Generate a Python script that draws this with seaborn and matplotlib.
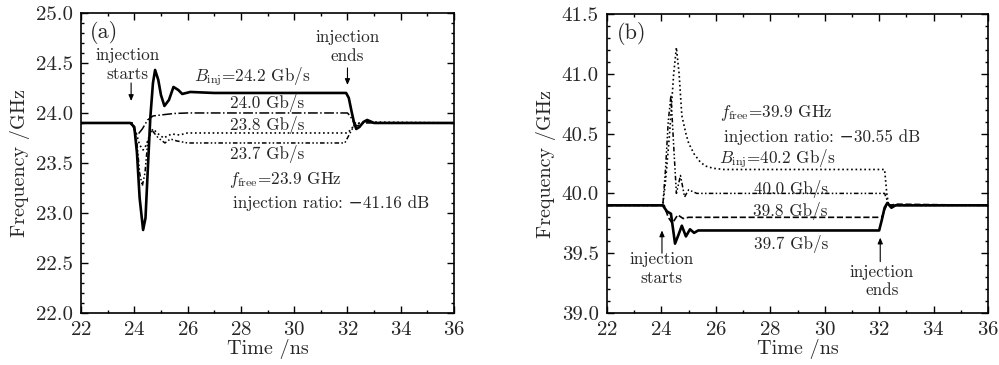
import numpy as np
import pandas as pd
import matplotlib
matplotlib.use('Agg')
import matplotlib.pyplot as plt
import seaborn as sns

# ---- panel (a) data, f_free = 23.9 GHz ----
t_a242 = [22, 23.85, 24.0, 24.1, 24.2, 24.33, 24.42, 24.5, 24.6, 24.7, 24.78, 24.9, 25.0, 25.13,
          25.3, 25.47, 25.65, 25.8, 26.1, 27, 31.95, 32.05, 32.15, 32.25, 32.33, 32.45, 32.6, 32.74, 33, 36]
f_a242 = [23.9, 23.9, 23.86, 23.6, 23.15, 22.83, 22.95, 23.4, 23.95, 24.3, 24.43, 24.33, 24.18, 24.07,
          24.13, 24.26, 24.23, 24.19, 24.21, 24.2, 24.2, 24.15, 24.02, 23.9, 23.84, 23.86, 23.91, 23.93, 23.9, 23.9]

t_a240 = [22, 23.9, 24.05, 24.15, 24.3, 24.5, 24.7, 25.0, 25.5, 26, 32.0, 32.1, 32.25, 32.35, 32.5, 32.7, 32.9, 36]
f_a240 = [23.9, 23.9, 23.8, 23.79, 23.84, 23.93, 23.97, 23.98, 23.995, 24.0, 24.0, 23.97, 23.9, 23.87, 23.88, 23.92, 23.9, 23.9]

t_a238 = [22, 23.9, 24.05, 24.2, 24.33, 24.45, 24.6, 24.7, 24.9, 25.1, 25.4, 25.7, 26, 32.0, 32.15, 32.3, 32.5, 32.7, 36]
f_a238 = [23.9, 23.9, 23.82, 23.68, 23.63, 23.68, 23.8, 23.84, 23.79, 23.75, 23.79, 23.78, 23.8, 23.8, 23.84, 23.9, 23.89, 23.91, 23.9]

t_a237 = [22, 23.95, 24.1, 24.2, 24.3, 24.4, 24.5, 24.65, 24.9, 25.15, 25.35, 25.6, 26, 31.9, 32.1, 32.3, 32.5, 36]
f_a237 = [23.9, 23.9, 23.7, 23.4, 23.27, 23.4, 23.7, 23.83, 23.75, 23.7, 23.74, 23.72, 23.7, 23.7, 23.8, 23.9, 23.9, 23.9]

# ---- panel (b) data, f_free = 39.9 GHz ----
t_b402 = [22, 24.05, 24.15, 24.3, 24.45, 24.55, 24.65, 24.75, 24.9, 25.0, 25.2, 25.4, 25.6, 25.9, 26.3, 32.2, 32.28, 32.35, 36]
f_b402 = [39.9, 39.9, 40.1, 40.5, 41.0, 41.22, 41.0, 40.65, 40.5, 40.42, 40.33, 40.27, 40.23, 40.21, 40.2, 40.2, 40.0, 39.9, 39.9]

t_b400 = [22, 24.05, 24.15, 24.25, 24.35, 24.45, 24.55, 24.7, 24.85, 25.0, 25.3, 32.2, 32.28, 32.35, 36]
f_b400 = [39.9, 39.9, 40.2, 40.6, 40.82, 40.4, 40.0, 40.15, 39.97, 40.03, 40.0, 40.0, 39.95, 39.9, 39.9]

t_b398 = [22, 24.1, 24.25, 24.4, 24.6, 24.8, 25.0, 32.1, 32.2, 32.3, 32.4, 32.6, 36]
f_b398 = [39.9, 39.9, 39.8, 39.75, 39.82, 39.79, 39.8, 39.8, 39.86, 39.92, 39.9, 39.91, 39.9]

t_b397 = [22, 24.05, 24.2, 24.35, 24.5, 24.62, 24.75, 24.9, 25.05, 25.2, 25.35, 26, 32.0, 32.1, 32.2, 32.3, 32.45, 32.6, 36]
f_b397 = [39.9, 39.9, 39.85, 39.83, 39.58, 39.65, 39.73, 39.64, 39.7, 39.67, 39.69, 39.69, 39.69, 39.78, 39.88, 39.92, 39.88, 39.9, 39.9]

sns.set_style('white')
plt.rcParams['font.family'] = ['cmr10', 'DejaVu Serif']
plt.rcParams['mathtext.fontset'] = 'cm'
plt.rcParams['axes.formatter.use_mathtext'] = True

fig = plt.figure(figsize=(9.99, 3.65), dpi=100)
ax_a = fig.add_axes([0.0811, 0.1425, 0.3734, 0.822])
ax_b = fig.add_axes([0.6076, 0.1425, 0.3814, 0.8191])

dashdotdot = (0, (3, 1.5, 1, 1.5, 1, 1.5))
curves_a = [(t_a242, f_a242, '-', 1.9), (t_a240, f_a240, '-.', 1.1),
            (t_a238, f_a238, ':', 1.2), (t_a237, f_a237, dashdotdot, 1.1)]
curves_b = [(t_b402, f_b402, ':', 1.2), (t_b400, f_b400, dashdotdot, 1.1),
            (t_b398, f_b398, '--', 1.2), (t_b397, f_b397, '-', 1.9)]

for ax, curves in [(ax_a, curves_a), (ax_b, curves_b)]:
    for t, f, ls, lw in curves:
        df = pd.DataFrame({'t': t, 'f': f})
        sns.lineplot(data=df, x='t', y='f', ax=ax, color='black', linestyle=ls,
                     linewidth=lw, estimator=None, sort=False)

arrow = dict(arrowstyle='-|>,head_length=0.35,head_width=0.15', color='black', lw=0.8, shrinkA=0, shrinkB=0)
fs = 12.3

# panel (a)
ax_a.set_xlim(22, 36)
ax_a.set_ylim(22.0, 25.0)
ax_a.set_yticks(np.arange(22.0, 25.01, 0.5))
ax_a.text(22.35, 24.8, '(a)', fontsize=16, va='center')
ax_a.text(23.75, 24.58, 'injection', fontsize=fs, ha='center', va='center')
ax_a.text(23.75, 24.39, 'starts', fontsize=fs, ha='center', va='center')
ax_a.annotate('', xy=(23.88, 24.12), xytext=(23.88, 24.3), arrowprops=arrow)
ax_a.text(32.0, 24.76, 'injection', fontsize=fs, ha='center', va='center')
ax_a.text(32.0, 24.57, 'ends', fontsize=fs, ha='center', va='center')
ax_a.annotate('', xy=(32.0, 24.28), xytext=(32.0, 24.45), arrowprops=arrow)
ax_a.text(26.25, 24.36, r'$B_{\rm inj}$=24.2 Gb/s', fontsize=fs, va='center')
ax_a.text(29.0, 24.1, '24.0 Gb/s', fontsize=fs, ha='center', va='center')
ax_a.text(29.0, 23.88, '23.8 Gb/s', fontsize=fs, ha='center', va='center')
ax_a.text(29.0, 23.59, '23.7 Gb/s', fontsize=fs, ha='center', va='center')
ax_a.text(27.55, 23.33, r'$f_{\rm free}$=23.9 GHz', fontsize=fs, va='center')
ax_a.text(27.7, 23.1, 'injection ratio: \u221241.16 dB', fontsize=fs, va='center')

# panel (b)
ax_b.set_xlim(22, 36)
ax_b.set_ylim(39.0, 41.5)
ax_b.set_yticks(np.arange(39.0, 41.51, 0.5))
ax_b.text(22.35, 41.34, '(b)', fontsize=16, va='center')
ax_b.text(26.15, 40.67, r'$f_{\rm free}$=39.9 GHz', fontsize=fs, va='center')
ax_b.text(26.3, 40.47, 'injection ratio: \u221230.55 dB', fontsize=fs, va='center')
ax_b.text(26.1, 40.29, r'$B_{\rm inj}$=40.2 Gb/s', fontsize=fs, va='center')
ax_b.text(28.75, 40.04, '40.0 Gb/s', fontsize=fs, ha='center', va='center')
ax_b.text(28.75, 39.85, '39.8 Gb/s', fontsize=fs, ha='center', va='center')
ax_b.text(28.75, 39.58, '39.7 Gb/s', fontsize=fs, ha='center', va='center')
ax_b.text(24.0, 39.45, 'injection', fontsize=fs, ha='center', va='center')
ax_b.text(24.0, 39.29, 'starts', fontsize=fs, ha='center', va='center')
ax_b.annotate('', xy=(24.02, 39.69), xytext=(24.02, 39.5), arrowprops=arrow)
ax_b.text(32.1, 39.34, 'injection', fontsize=fs, ha='center', va='center')
ax_b.text(32.1, 39.19, 'ends', fontsize=fs, ha='center', va='center')
ax_b.annotate('', xy=(32.04, 39.63), xytext=(32.04, 39.43), arrowprops=arrow)

for ax in (ax_a, ax_b):
    ax.set_xticks(np.arange(22, 36.1, 2))
    ax.set_xticks(np.arange(22, 36.1, 1), minor=True)
    ax.set_yticks(np.arange(ax.get_ylim()[0], ax.get_ylim()[1] + 0.01, 0.1), minor=True)
    ax.yaxis.set_major_formatter(matplotlib.ticker.FormatStrFormatter('%.1f'))
    ax.tick_params(which='both', direction='in', top=True, right=True, bottom=True, left=True,
                   labelsize=15, color='black', width=1.0, pad=6)
    ax.tick_params(which='major', length=5)
    ax.tick_params(which='minor', length=2.5)
    ax.set_xlabel('Time /ns', fontsize=14.5, labelpad=0)
    ax.set_ylabel('Frequency /GHz', fontsize=14.5, labelpad=4)
    for s in ax.spines.values():
        s.set_color('black')
        s.set_linewidth(1.2)

fig.savefig('out.png', dpi=100)
